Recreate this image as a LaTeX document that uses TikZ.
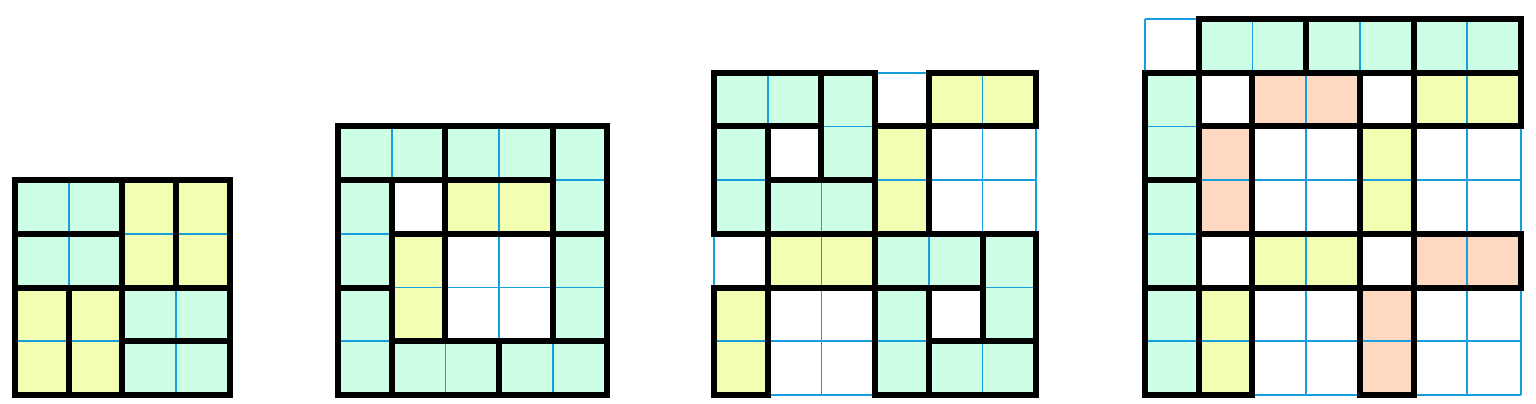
\documentclass[tikz,border=0pt]{standalone}
\definecolor{mint}{HTML}{CCFFE6}
\definecolor{lemon}{HTML}{F2FFB3}
\definecolor{peach}{HTML}{FFD9BF}
\definecolor{gblue}{HTML}{169FDC}
\tikzset{
  gl/.style={draw=gblue, line width=1.7pt},
  thk/.style={draw=black, line width=6pt, line join=miter},
}
\newcommand\mygrid[3]{%
  \begin{scope}[shift={(#2pt,9pt+#1*53.7pt)},x=53.7pt,y=-53.7pt]
    \foreach \cc/\xx/\yy/\ww/\hh in {#3} {\fill[fill=\cc] (\xx,\yy) rectangle ++(\ww,\hh);}
    \foreach \i in {0,...,#1} {\draw[gl] (\i,0) -- (\i,#1); \draw[gl] (0,\i) -- (#1,\i);}
    \foreach \cc/\xx/\yy/\ww/\hh in {#3} {\draw[thk] (\xx,\yy) rectangle ++(\ww,\hh);}
  \end{scope}}
\begin{document}
\begin{tikzpicture}
\useasboundingbox (0,0) rectangle (1536pt,404pt);
\fill[white] (0,0) rectangle (1536pt,404pt);
\mygrid{4}{15}{mint/0/0/2/1, mint/0/1/2/1, lemon/2/0/1/2, lemon/3/0/1/2,
  lemon/0/2/1/2, lemon/1/2/1/2, mint/2/2/2/1, mint/2/3/2/1}
\mygrid{5}{338}{mint/0/0/2/1, mint/2/0/2/1, mint/4/0/1/2, mint/0/1/1/2,
  lemon/2/1/2/1, mint/4/2/1/2, lemon/1/2/1/2, mint/0/3/1/2, mint/1/4/2/1, mint/3/4/2/1}
\mygrid{6}{714}{mint/0/0/2/1, mint/2/0/1/2, lemon/4/0/2/1, mint/0/1/1/2,
  lemon/3/1/1/2, mint/1/2/2/1, lemon/1/3/2/1, mint/3/3/2/1, mint/5/3/1/2,
  lemon/0/4/1/2, mint/3/4/1/2, mint/4/5/2/1}
\mygrid{7}{1145}{mint/1/0/2/1, mint/3/0/2/1, mint/5/0/2/1,
  mint/0/1/1/2, mint/0/3/1/2, mint/0/5/1/2,
  peach/2/1/2/1, lemon/5/1/2/1, peach/1/2/1/2, lemon/4/2/1/2,
  lemon/2/4/2/1, peach/5/4/2/1, lemon/1/5/1/2, peach/4/5/1/2}
\end{tikzpicture}
\end{document}
